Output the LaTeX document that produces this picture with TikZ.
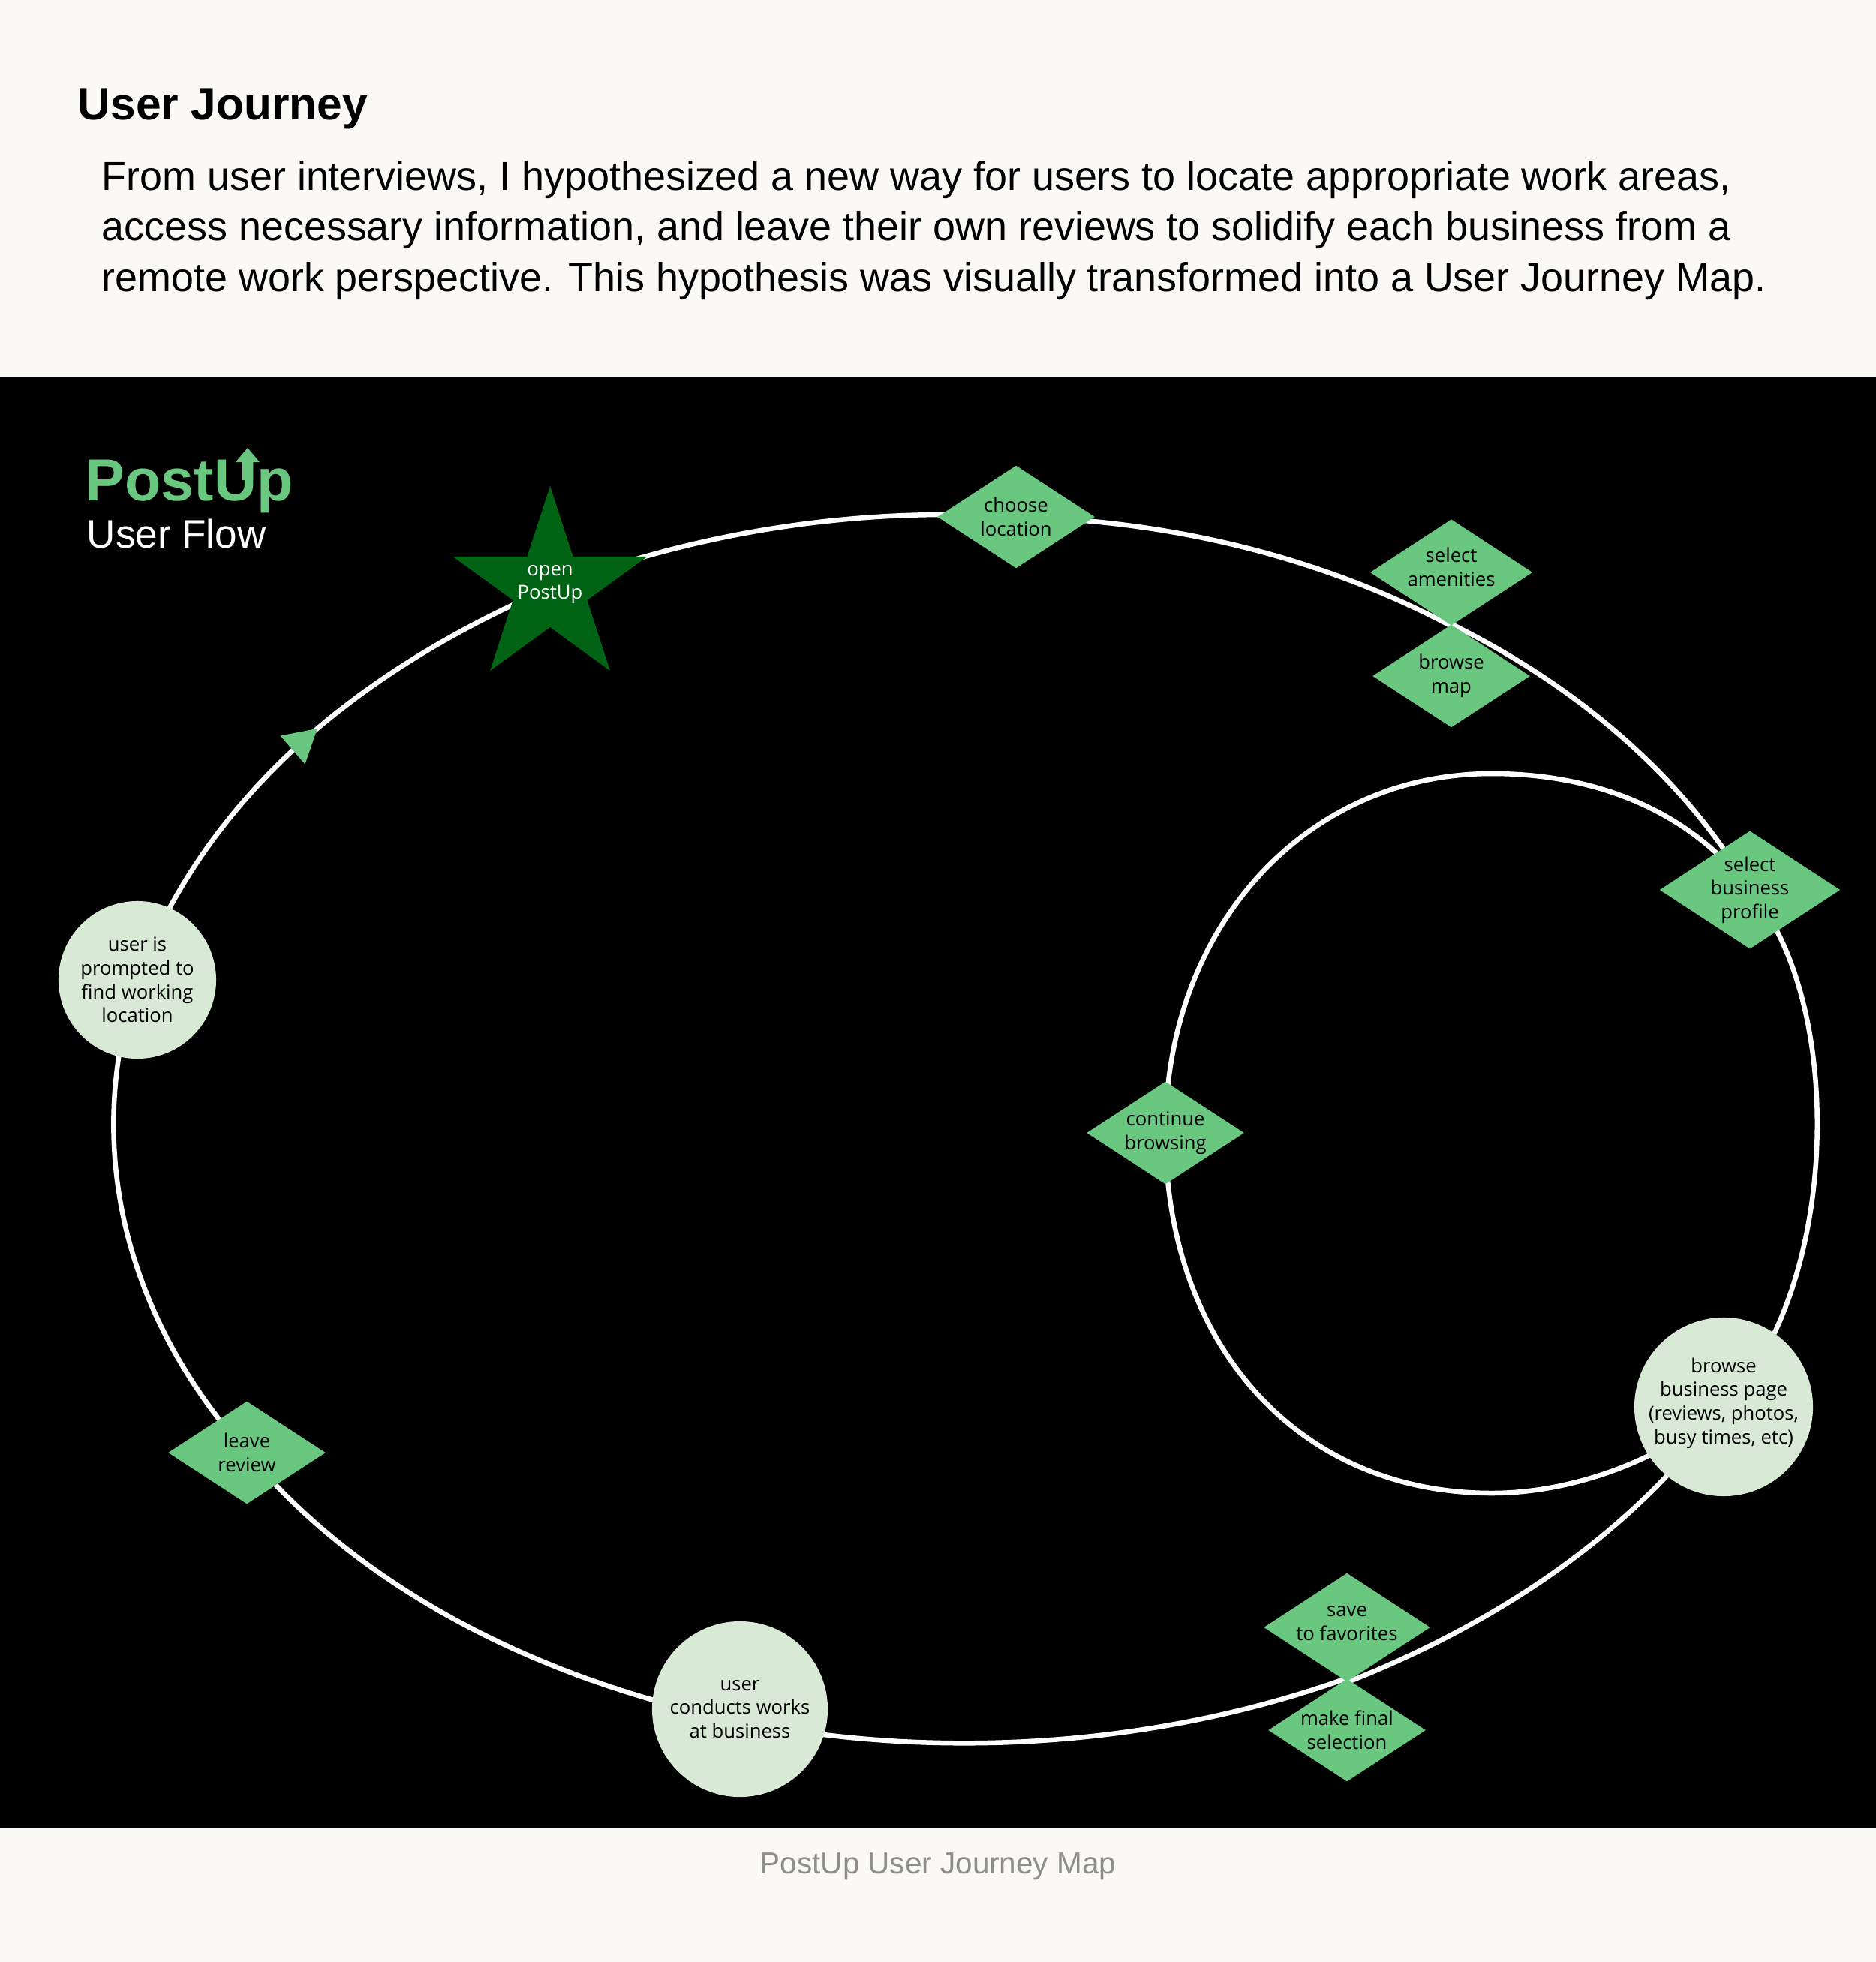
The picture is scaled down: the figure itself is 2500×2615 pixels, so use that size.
\documentclass[tikz,border=0pt]{standalone}
\usepackage{fontspec}
\setmainfont{Liberation Sans}
\newfontfamily\flowfont{Open Sans}
\usetikzlibrary{shapes.geometric,calc,backgrounds}
\definecolor{paper}{HTML}{FAF9F5}
\definecolor{flowgreen}{HTML}{69C780}
\definecolor{flowpale}{HTML}{D8E9D5}
\definecolor{flowdark}{HTML}{006414}
\definecolor{capgray}{HTML}{8E8E8E}
\newcommand{\lowpad}[1]{\rule[-#1]{0pt}{0pt}}
\tikzset{
  flowtext/.style={align=center, inner sep=0pt, text=black, font=\flowfont\fontsize{7.3}{9}\selectfont},
  decision/.style={flowtext, diamond, aspect=1.53, fill=flowgreen, minimum width=2.1cm, minimum height=1.37cm},
  flowstate/.style={flowtext, circle, fill=flowpale, minimum size=#1},
  flowline/.style={draw=white, line width=0.065cm}
}
\begin{document}
\begin{tikzpicture}[x=0.01cm, y=-0.01cm]
  \useasboundingbox (0,0) rectangle (2500,2615);
  \begin{pgfonlayer}{background}
    \fill[paper] (0,0) rectangle (2500,2615);
    \fill[black] (0,502) rectangle (2500,2437);
  \end{pgfonlayer}
  % header
  \node[anchor=base west, inner sep=0pt, font=\bfseries\fontsize{17.2}{20}\selectfont] (title) at (103,160) {User Journey};
  \node[anchor=north west, align=left, inner sep=0pt, font=\fontsize{15.32}{19.1}\selectfont] (intro) at (135,214)
    {From user interviews, I hypothesized a new way for users to locate appropriate work areas,\\
     access necessary information, and leave their own reviews to solidify each business from a\\
     remote work perspective. This hypothesis was visually transformed into a User Journey Map.};
  \node[anchor=base, inner sep=0pt, text=capgray, font=\fontsize{11.5}{14}\selectfont] (caption) at (1250,2497) {PostUp User Journey Map};
  % logo
  \node[anchor=base west, inner sep=0pt, text=flowgreen, font=\bfseries\fontsize{22.5}{26}\selectfont] (logo) at (113,667) {PostUp};
  \node[anchor=base west, inner sep=0pt, text=white, font=\fontsize{15.1}{18}\selectfont] (subtitle) at (115,730) {User Flow};
  \fill[flowgreen] (314,616) -- (330,597) -- (346,616) -- (337,616) -- (337,640) -- (323,640) -- (323,616) -- cycle;
  % nodes
  \coordinate (ringc) at (1286,1503);
  \node[star, star points=5, star point ratio=2.618, fill=flowdark, minimum size=2.72cm, inner sep=0pt] (open) at (733,784) {};
  \node[flowtext, text=white] (openlabel) at (733,779) {open\\PostUp};
  \node[regular polygon, regular polygon sides=3, fill=flowgreen, minimum size=0.58cm, inner sep=0pt, rotate=-49] (flowmark) at (401,990) {};
  \foreach \name/\x/\y/\txt in {
      choose/1354/689/{choose\\location},
      amenities/1934/763/{select\\amenities\lowpad{0.14cm}},
      browsemap/1934/901/{browse\\map},
      profile/2332/1186/{select\\business\\profile},
      continue/1553/1510/{continue\\browsing},
      favorites/1795/2169/{save\\to favorites\lowpad{0.11cm}},
      finalpick/1795/2306/{make final\\selection},
      review/329/1936/{leave\\review}}
    {\node[decision] (\name) at (\x,\y) {\txt};}
  \foreach \name/\x/\y/\sz/\txt in {
      prompted/183/1306/2.1cm/{user is\\prompted to\\find working\\location},
      page/2297/1875/2.34cm/{browse\\business page\\(reviews, photos,\\busy times, etc)\lowpad{0.16cm}},
      works/986/2278/2.34cm/{user\\conducts works\\at business}}
    {\node[flowstate=\sz] (\name) at (\x,\y) {\txt};}
  \coordinate (worksport) at ($(works.center)+(0,16)$);
  % connectors
  \begin{pgfonlayer}{background}
    \foreach \from/\upto/\ta/\tb in {
        prompted.center/flowmark.center/193.9/218.7,
        flowmark.center/open.center/218.7/240.9,
        open.center/choose.center/240.9/273.5,
        choose.center/amenities.south/273.5/304.9,
        browsemap.north/profile.center/304.9/337.2,
        page.center/favorites.south/387/423.4,
        finalpick.north/worksport/423.4/465.6,
        worksport/review.center/465.6/508,
        review.center/prompted.center/508/553.9}
      {\pgfmathsetmacro{\kk}{4/3*tan((\tb-\ta)/4)}
       \draw[flowline] (\from) .. controls ($(ringc)+(\ta:1134 and 820)+\kk*(\ta+90:1134 and 820)$) and ($(ringc)+(\tb:1134 and 820)-\kk*(\tb+90:1134 and 820)$) .. (\upto);}
    \draw[flowline] (profile.center) .. controls (2463,1340) and (2450,1725) .. (page.center);
    \coordinate (innertop) at (1988,1031);
    \coordinate (innerbot) at (1988,1990);
    \draw[flowline] (profile.center) .. controls (2260,1090) and (2140,1031) .. (innertop)
      .. controls (1740,1031) and (1553,1235) .. (continue.center);
    \draw[flowline] (continue.center) .. controls (1553,1790) and (1728,1990) .. (innerbot)
      .. controls (2090,1990) and (2210,1950) .. (page.center);
  \end{pgfonlayer}
\end{tikzpicture}
\end{document}
